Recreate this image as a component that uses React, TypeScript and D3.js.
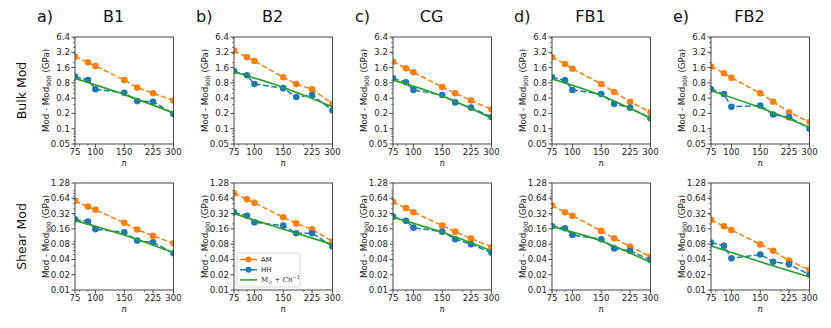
import * as d3 from "d3";

// sample sizes (n) used for the AM / HH points
const nValues = [75, 90, 100, 150, 180, 225, 300];
// n at which the fitted curve was read
const fitN = [75, 150, 300];

const panelNames = ["B1", "B2", "CG", "FB1", "FB2"];
const panelLetters = ["a)", "b)", "c)", "d)", "e)"];
const rowNames = ["Bulk Mod", "Shear Mod"];

const xTicks = [75, 100, 150, 225, 300];
const xMinor = [80, 90, 200];
const bulkTicks = [0.05, 0.1, 0.2, 0.4, 0.8, 1.6, 3.2, 6.4];
const shearTicks = [0.01, 0.02, 0.04, 0.08, 0.16, 0.32, 0.64, 1.28];

// bulk modulus, one row per panel
const bulkAM = [
  [2.62, 2.03, 1.72, 0.91, 0.65, 0.5, 0.36],
  [3.45, 2.55, 2.16, 1.03, 0.76, 0.6, 0.31],
  [2.09, 1.55, 1.29, 0.66, 0.5, 0.36, 0.24],
  [2.55, 1.88, 1.52, 0.76, 0.53, 0.34, 0.21],
  [1.67, 1.24, 1.01, 0.5, 0.34, 0.21, 0.136],
];
const bulkHH = [
  [1.06, 0.91, 0.6, 0.51, 0.35, 0.34, 0.195],
  [1.37, 1.13, 0.76, 0.63, 0.42, 0.46, 0.23],
  [0.98, 0.82, 0.58, 0.46, 0.33, 0.26, 0.17],
  [1.03, 0.9, 0.58, 0.48, 0.31, 0.26, 0.16],
  [0.6, 0.48, 0.27, 0.286, 0.19, 0.168, 0.1],
];
const bulkFit = [
  [0.98, 0.47, 0.205],
  [1.31, 0.65, 0.27],
  [0.91, 0.44, 0.16],
  [0.96, 0.45, 0.16],
  [0.56, 0.26, 0.107],
];

// shear modulus, one row per panel
const shearAM = [
  [0.57, 0.44, 0.38, 0.21, 0.155, 0.117, 0.083],
  [0.8, 0.61, 0.52, 0.27, 0.205, 0.157, 0.09],
  [0.54, 0.41, 0.34, 0.185, 0.141, 0.103, 0.07],
  [0.46, 0.34, 0.29, 0.146, 0.104, 0.072, 0.045],
  [0.24, 0.18, 0.152, 0.079, 0.059, 0.038, 0.025],
];
const shearHH = [
  [0.246, 0.222, 0.157, 0.137, 0.094, 0.087, 0.053],
  [0.338, 0.29, 0.215, 0.185, 0.131, 0.131, 0.072],
  [0.278, 0.23, 0.169, 0.141, 0.1, 0.08, 0.054],
  [0.18, 0.164, 0.121, 0.1, 0.066, 0.059, 0.039],
  [0.086, 0.074, 0.042, 0.05, 0.036, 0.032, 0.02],
];
const shearFit = [
  [0.233, 0.121, 0.054],
  [0.32, 0.157, 0.079],
  [0.27, 0.137, 0.059],
  [0.177, 0.092, 0.035],
  [0.074, 0.036, 0.018],
];

const W = 831;
const H = 328;
const left0 = 75;
const colStep = 159;
const plotW = 98.5;
const plotH = 107;
const rowTops = [37, 183];

const orange = "#ff7f0e";
const blue = "#1f77b4";
const green = "#2ca02c";
const font = "DejaVu Sans, sans-serif";

function minorTicks(domain: number[], majors: number[]) {
  const out: number[] = [];
  for (let e = -3; e <= 2; e++) {
    for (let s = 2; s <= 9; s++) {
      const v = +(s * Math.pow(10, e)).toPrecision(3);
      if (v >= domain[0] && v <= domain[1] && !majors.some((m) => Math.abs(m - v) < 1e-9)) out.push(v);
    }
  }
  return out;
}

function Panel({ col, row }: { col: number; row: number }) {
  const x0 = left0 + col * colStep;
  const y0 = rowTops[row];
  const ticks = row === 0 ? bulkTicks : shearTicks;
  const yDomain = [ticks[0], ticks[ticks.length - 1]];
  const x = d3.scaleLog().domain([75, 300]).range([x0, x0 + plotW]);
  const y = d3.scaleLog().domain(yDomain).range([y0 + plotH, y0]);
  const am = (row === 0 ? bulkAM : shearAM)[col];
  const hh = (row === 0 ? bulkHH : shearHH)[col];
  const fit = (row === 0 ? bulkFit : shearFit)[col];
  const line = d3
    .line<[number, number]>()
    .x((d) => x(d[0]))
    .y((d) => y(d[1]));
  const fitLine = d3
    .line<[number, number]>()
    .curve(d3.curveMonotoneX)
    .x((d) => x(d[0]))
    .y((d) => y(d[1]));
  const amPts = nValues.map((n, i) => [n, am[i]] as [number, number]);
  const hhPts = nValues.map((n, i) => [n, hh[i]] as [number, number]);
  const fitPts = fitN.map((n, i) => [n, fit[i]] as [number, number]);
  const clipId = `clip-${row}-${col}`;
  const yMinor = minorTicks(yDomain, ticks);
  const axisColor = "#333";
  const bottom = y0 + plotH;

  return (
    <g>
      <clipPath id={clipId}>
        <rect x={x0} y={y0} width={plotW} height={plotH} />
      </clipPath>
      <g clipPath={`url(#${clipId})`}>
        <path d={line(amPts) || ""} fill="none" stroke={orange} strokeWidth={1.5} strokeDasharray="5.5,2.4" />
        {amPts.map((d, i) => (
          <circle key={"a" + i} cx={x(d[0])} cy={y(d[1])} r={3.3} fill={orange} />
        ))}
        <path d={line(hhPts) || ""} fill="none" stroke={blue} strokeWidth={1.5} strokeDasharray="6,2.4" />
        {hhPts.map((d, i) => (
          <circle key={"h" + i} cx={x(d[0])} cy={y(d[1])} r={3.3} fill={blue} />
        ))}
        <path d={fitLine(fitPts) || ""} fill="none" stroke={green} strokeWidth={1.7} />
      </g>
      <rect x={x0} y={y0} width={plotW} height={plotH} fill="none" stroke={axisColor} strokeWidth={0.9} />
      {ticks.map((t) => (
        <g key={"yt" + t}>
          <line x1={x0 - 3.5} x2={x0} y1={y(t)} y2={y(t)} stroke={axisColor} strokeWidth={0.9} />
          <text x={x0 - 5} y={y(t)} dy="0.35em" textAnchor="end" fontSize={8.6} fontFamily={font} fill="#222">
            {String(t)}
          </text>
        </g>
      ))}
      {yMinor.map((t) => (
        <line key={"ym" + t} x1={x0 - 2} x2={x0} y1={y(t)} y2={y(t)} stroke={axisColor} strokeWidth={0.6} />
      ))}
      {xTicks.map((t) => (
        <g key={"xt" + t}>
          <line x1={x(t)} x2={x(t)} y1={bottom} y2={bottom + 3.5} stroke={axisColor} strokeWidth={0.9} />
          <text x={x(t)} y={bottom + 4.5} dy="0.75em" textAnchor="middle" fontSize={8.6} fontFamily={font} fill="#222">
            {String(t)}
          </text>
        </g>
      ))}
      {xMinor.map((t) => (
        <line key={"xm" + t} x1={x(t)} x2={x(t)} y1={bottom} y2={bottom + 2} stroke={axisColor} strokeWidth={0.6} />
      ))}
      <text
        x={x0 + plotW / 2}
        y={bottom + 22}
        textAnchor="middle"
        fontSize={8.5}
        fontStyle="italic"
        fontFamily="DejaVu Serif, serif"
        fill="#222"
      >
        n
      </text>
      <text
        transform={`translate(${x0 - 29},${y0 + plotH / 2}) rotate(-90)`}
        textAnchor="middle"
        dy="0.35em"
        fontSize={8.7}
        fontFamily={font}
        fill="#222"
      >
        Mod - Mod
        <tspan fontSize={6} dy="2">900</tspan>
        <tspan dy="-2"> (GPa)</tspan>
      </text>
    </g>
  );
}

function Legend() {
  const lx = left0 + colStep + 3;
  const ly = 253;
  const items = [
    { label: "AM", color: orange, marker: true },
    { label: "HH", color: blue, marker: true },
    { label: "fit", color: green, marker: false },
  ];
  return (
    <g>
      <rect x={lx} y={ly} width={63} height={34} rx={2} fill="white" fillOpacity={0.85} stroke="#ccc" strokeWidth={0.8} />
      {items.map((it, i) => {
        const cy = ly + 6.5 + i * 10.2;
        return (
          <g key={it.label}>
            <line x1={lx + 3} x2={lx + 20} y1={cy} y2={cy} stroke={it.color} strokeWidth={1.5} />
            {it.marker && <circle cx={lx + 11.5} cy={cy} r={3} fill={it.color} />}
            {it.label === "fit" ? (
              <text x={lx + 24} y={cy} dy="0.35em" fontSize={7} fontFamily="DejaVu Serif, serif" fill="#222">
                M
                <tspan fontSize={5} dy="1.5">∞</tspan>
                <tspan dy="-1.5"> + </tspan>
                <tspan fontStyle="italic">Cn</tspan>
                <tspan fontSize={5} dy="-3">−1</tspan>
              </text>
            ) : (
              <text x={lx + 24} y={cy} dy="0.35em" fontSize={7} fontFamily={font} fill="#222">
                {it.label}
              </text>
            )}
          </g>
        );
      })}
    </g>
  );
}

export default function App() {
  return (
    <svg
      width={W}
      height={H}
      viewBox={`0 0 ${W} ${H}`}
      style={{ position: "absolute", left: 0, top: 0, background: "white" }}
    >
      <rect width={W} height={H} fill="white" />
      {panelNames.map((name, c) => (
        <g key={name}>
          <text x={left0 + c * colStep - 38} y={22} fontSize={16} fontFamily={font} fill="#111">
            {panelLetters[c]}
          </text>
          <text x={left0 + c * colStep + 38.5} y={22} textAnchor="middle" fontSize={16} fontFamily={font} fill="#111">
            {name}
          </text>
        </g>
      ))}
      {rowNames.map((r, i) => (
        <text
          key={r}
          transform={`translate(22,${rowTops[i] + plotH / 2}) rotate(-90)`}
          textAnchor="middle"
          dy="0.35em"
          fontSize={12.5}
          fontFamily={font}
          fill="#111"
        >
          {r}
        </text>
      ))}
      {[0, 1].map((row) => panelNames.map((_, col) => <Panel key={`${row}-${col}`} row={row} col={col} />))}
      <Legend />
    </svg>
  );
}
